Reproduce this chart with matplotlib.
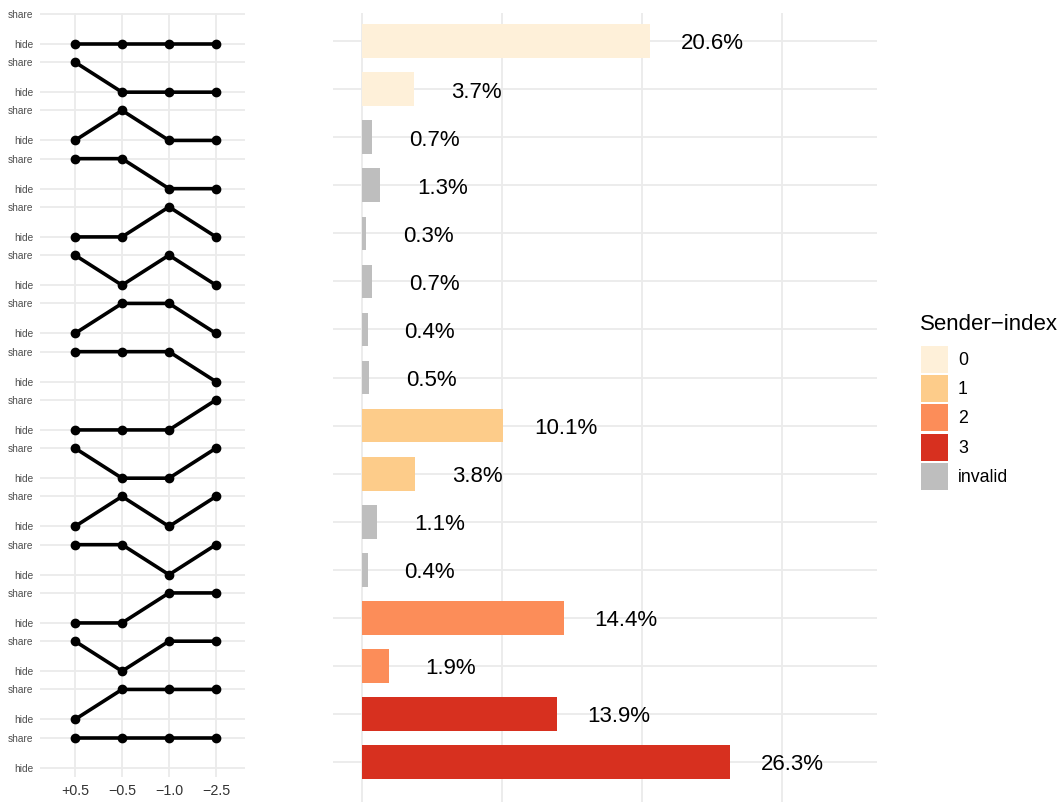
import matplotlib
matplotlib.use("Agg")
import matplotlib.pyplot as plt  # noqa: E402
import numpy as np  # noqa: E402
from matplotlib.patches import Rectangle  # noqa: E402

plt.rcParams["font.family"] = ["Liberation Sans", "DejaVu Sans"]

# x positions of the left panel (price steps), share=1 / hide=0 per step
thresholds = ["+0.5", "\u22120.5", "\u22121.0", "\u22122.5"]
patterns = [
    [0, 0, 0, 0], [1, 0, 0, 0], [0, 1, 0, 0], [1, 1, 0, 0],
    [0, 0, 1, 0], [1, 0, 1, 0], [0, 1, 1, 0], [1, 1, 1, 0],
    [0, 0, 0, 1], [1, 0, 0, 1], [0, 1, 0, 1], [1, 1, 0, 1],
    [0, 0, 1, 1], [1, 0, 1, 1], [0, 1, 1, 1], [1, 1, 1, 1],
]
shares = [20.6, 3.7, 0.7, 1.3, 0.3, 0.7, 0.4, 0.5,
          10.1, 3.8, 1.1, 0.4, 14.4, 1.9, 13.9, 26.3]
sender = ["0", "0", "invalid", "invalid", "invalid", "invalid", "invalid", "invalid",
          "1", "1", "invalid", "invalid", "2", "2", "3", "3"]
legend_keys = ["0", "1", "2", "3", "invalid"]
legend_colors = ["#FEF0D9", "#FDCC8A", "#FC8D59", "#D7301F", "#BEBEBE"]

W, H = 1064, 802
GRID = "#EBEBEB"
TXT = "#4D4D4D"
fig = plt.figure(figsize=(W / 100, H / 100), dpi=100)


def px_axes(x0, y0, x1, y1):
    return fig.add_axes([x0 / W, 1 - y1 / H, (x1 - x0) / W, (y1 - y0) / H])


# left: one row of share/hide pattern per bar
axl = px_axes(40, 13, 245, 777)
n = len(patterns)
step = 1.608
xs = np.arange(len(thresholds))
yt, yl = [], []
for i, pat in enumerate(patterns):
    base = (n - 1 - i) * step
    for v, lab in ((0, "hide"), (1, "share")):
        axl.axhline(base + v, color=GRID, lw=1.3, zorder=0)
        yt.append(base + v)
        yl.append(lab)
    axl.plot(xs, base + np.array(pat), color="black", lw=2.6, marker="o", ms=6,
             solid_capstyle="round", zorder=3)
for x in xs:
    axl.axvline(x, color=GRID, lw=1.3, zorder=0)
axl.set_xlim(-0.745, 3.617)
axl.set_ylim(-0.31, (n - 1) * step + 1.03)
axl.set_xticks(xs, thresholds)
axl.set_yticks(yt, yl)
axl.tick_params(axis="y", length=0, labelsize=7.3, labelcolor=TXT, pad=5)
axl.tick_params(axis="x", length=0, labelsize=10.3, labelcolor="#333333", pad=5)
for s in axl.spines.values():
    s.set_visible(False)

# right: bars of the share of each pattern
axr = px_axes(333, 12.7, 877, 802)
ypos = np.arange(n)[::-1]
cmap = dict(zip(legend_keys, legend_colors))
axr.barh(ypos, shares, height=0.7, color=[cmap[s] for s in sender], zorder=2)
for y in ypos:
    axr.axhline(y, color=GRID, lw=1.3, zorder=0)
for x in (0, 10, 20, 30):
    axr.axvline(x, color=GRID, lw=1.3, zorder=0)
for y, v in zip(ypos, shares):
    axr.text(v + 4.45, y - 0.06, f"{v:.1f}%", ha="center", va="center", fontsize=16, zorder=3)
axr.set_xlim(-2.07, 36.8)
axr.set_ylim(-0.83, n - 1 + 0.59)
axr.set_xticks([])
axr.set_yticks([])
for s in axr.spines.values():
    s.set_visible(False)

# legend, drawn by hand
fig.text(920 / W, 1 - 325 / H, "Sender\u2212index", fontsize=16, ha="left", va="center")
for k, (lab, c) in enumerate(zip(legend_keys, legend_colors)):
    top = 346 + 29.2 * k
    fig.add_artist(Rectangle((921 / W, 1 - (top + 27) / H), 27 / W, 27 / H,
                             transform=fig.transFigure, facecolor=c, edgecolor="none"))
    fig.text(958 / W, 1 - (top + 14.5) / H, lab, fontsize=12.8, ha="left", va="center")

fig.savefig("out.png", dpi=100)
